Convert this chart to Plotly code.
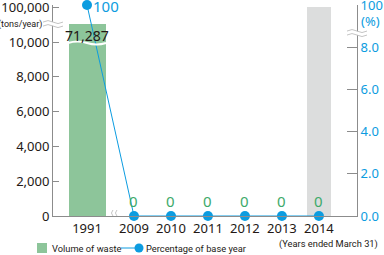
import plotly.graph_objects as go

# ---------------- data ----------------
years = ["1991", "2009", "2010", "2011", "2012", "2013", "2014"]
waste = [71287, 0, 0, 0, 0, 0, 0]          # tons/year
pct_of_base = [100, 0, 0, 0, 0, 0, 0]      # % of base year
highlight_years = ["2014"]
series_names = ["Volume of waste", "Percentage of base year"]

left_ticks = [0, 2000, 4000, 6000, 8000, 10000]
left_top_label = "100,000"
right_ticks = [0, 2, 4, 6, 8]
right_top_label = "100"

# ---------------- styling ----------------
FONT = "Noto Sans"
SMALL_FONT = "Roboto"
DARK = "#231815"
GREEN = "#8dc59a"
GREEN_TXT = "#3daa6a"
BLUE = "#0c9ce0"
GRAY_AX = "#8c8c8c"
GRAY_BAR = "#dcdddd"

# plot-area geometry (pixels)
ML, MR, MT, MB = 53, 27, 5, 39
PW, PH = 384 - ML - MR, 255 - MT - MB


def px_x(px):
    return (px - ML) / PW


def px_y(py):
    return (255 - MB - py) / PH


# axis-break mapping (display positions of broken values)
L_TOP = 12000         # where 100,000 sits on the left scale
L_BREAK = 11030       # display height of values above 10,000
R_TOP = 10            # where 100 sits on the right scale

gap = 1.27
xpos = [i + (gap - 1 if i > 0 else 0) for i in range(len(years))]

waste_disp = [v if v <= 10000 else L_BREAK for v in waste]
pct_disp = [p if p <= 8 else R_TOP for p in pct_of_base]

fig = go.Figure()

hl_x = [xpos[years.index(y)] for y in highlight_years]
fig.add_trace(go.Bar(x=hl_x, y=[L_TOP] * len(hl_x), width=0.65,
                     marker=dict(color=GRAY_BAR, line_width=0),
                     showlegend=False, hoverinfo="skip"))
fig.add_trace(go.Bar(x=xpos, y=waste_disp, width=1.0, name=series_names[0],
                     marker=dict(color=GREEN, line_width=0), showlegend=False))
fig.add_trace(go.Scatter(x=xpos, y=pct_disp, yaxis="y2", mode="lines+markers",
                         name=series_names[1], showlegend=False, cliponaxis=False,
                         line=dict(color=BLUE, width=1),
                         marker=dict(color=BLUE, size=10)))

ann = []
for x, v, d in zip(xpos, waste, waste_disp):
    if v > 10000:
        ann.append(dict(x=x, y=d, xref="x", yref="y", text=f"{v:,}", showarrow=False,
                        yanchor="top", yshift=0, font=dict(size=14, color=DARK)))
    else:
        ann.append(dict(x=x, y=d, xref="x", yref="y", text=f"{v:,}", showarrow=False,
                        yanchor="bottom", yshift=3, font=dict(size=15, color=GREEN_TXT)))
for x, p, d in zip(xpos, pct_of_base, pct_disp):
    if p > 8:
        ann.append(dict(x=x, y=d, xref="x", yref="y2", text=f"{p}", showarrow=False,
                        xanchor="left", yanchor="middle", xshift=4, yshift=-1,
                        font=dict(size=15, color=BLUE)))

ann += [
    dict(x=0, y=L_BREAK, xref="paper", yref="y", text="(tons/year)", showarrow=False,
         xanchor="right", yanchor="middle", xshift=-9,
         font=dict(family=SMALL_FONT, size=9, color=DARK)),
    dict(x=1, y=9.24, xref="paper", yref="y2", text="(%)", showarrow=False,
         xanchor="left", yanchor="middle", xshift=2, font=dict(size=13, color=BLUE)),
    dict(x=1, y=px_y(244), xref="paper", yref="paper", text="(Years ended March 31)",
         showarrow=False, xanchor="right", yanchor="middle", xshift=23,
         font=dict(family=SMALL_FONT, size=9.3, color=DARK)),
    # legend texts
    dict(x=px_x(50), y=px_y(248), xref="paper", yref="paper", text=series_names[0],
         showarrow=False, xanchor="left", yanchor="middle",
         font=dict(family=SMALL_FONT, size=9.3, color=DARK)),
    dict(x=px_x(144), y=px_y(248), xref="paper", yref="paper", text=series_names[1],
         showarrow=False, xanchor="left", yanchor="middle",
         font=dict(family=SMALL_FONT, size=9.3, color=DARK)),
]

shapes = []


def hband(xa, xref, ya, yref, w=10):
    fill = (f"M {-w},2 Q {-w/2},5 0,2 T {w},2 L {w},-2 "
            f"Q {w/2},-5 0,-2 Q {-w/2},1 {-w},-2 Z")
    top = f"M {-w},2 Q {-w/2},5 0,2 T {w},2"
    bot = f"M {-w},-2 Q {-w/2},1 0,-2 T {w},-2"
    out = []
    for p, filled in ((fill, True), (top, False), (bot, False)):
        out.append(dict(type="path", path=p, xref=xref, yref=yref,
                        xsizemode="pixel", ysizemode="pixel", xanchor=xa, yanchor=ya,
                        fillcolor="white" if filled else "rgba(0,0,0,0)",
                        line=dict(color="rgba(0,0,0,0)" if filled else "#b5b5b5", width=0.8)))
    return out


def vband(xa, xref, ya, yref, h=6):
    fill = (f"M 2,{-h} Q 5,{-h/2} 2,0 T 2,{h} L -2,{h} "
            f"Q -5,{h/2} -2,0 Q 1,{-h/2} -2,{-h} Z")
    r = f"M 2,{-h} Q 5,{-h/2} 2,0 T 2,{h}"
    l = f"M -2,{-h} Q 1,{-h/2} -2,0 T -2,{h}"
    out = []
    for p, filled in ((fill, True), (r, False), (l, False)):
        out.append(dict(type="path", path=p, xref=xref, yref=yref,
                        xsizemode="pixel", ysizemode="pixel", xanchor=xa, yanchor=ya,
                        fillcolor="white" if filled else "rgba(0,0,0,0)",
                        line=dict(color="rgba(0,0,0,0)" if filled else "#b5b5b5", width=0.8)))
    return out


shapes += hband(0, "paper", L_BREAK, "y")
shapes += hband(1, "paper", 8.67, "y2")
shapes += vband((xpos[0] + xpos[1]) / 2 + 0.12, "x", 0, "y")
# white wave across the broken bar
shapes.append(dict(type="path", path="M -19,0 Q -9.5,3 0,0 T 19,0", xref="x", yref="y",
                   xsizemode="pixel", ysizemode="pixel", xanchor=xpos[0], yanchor=9943,
                   line=dict(color="white", width=2.2)))
# legend symbols
shapes.append(dict(type="rect", xref="paper", yref="paper",
                   x0=px_x(37), x1=px_x(47), y0=px_y(253), y1=px_y(243),
                   fillcolor=GREEN, line_width=0))
shapes.append(dict(type="line", xref="paper", yref="paper",
                   x0=px_x(121), x1=px_x(139), y0=px_y(248), y1=px_y(248),
                   line=dict(color=BLUE, width=1)))
shapes.append(dict(type="circle", xref="paper", yref="paper",
                   x0=px_x(134.5), x1=px_x(143.5), y0=px_y(252.5), y1=px_y(243.5),
                   fillcolor=BLUE, line_width=0))

fig.update_layout(
    width=384, height=255,
    margin=dict(l=ML, r=MR, t=MT, b=MB, autoexpand=False),
    paper_bgcolor="white", plot_bgcolor="white",
    barmode="overlay", bargap=0, showlegend=False,
    font=dict(family=FONT, color=DARK),
    xaxis=dict(range=[-0.92, 7.30], tickvals=xpos, ticktext=years, showgrid=False,
               zeroline=False, showline=True, linecolor=GRAY_AX, linewidth=1,
               ticks="", tickfont=dict(size=13, color=DARK), ticklabeloverflow="allow"),
    yaxis=dict(range=[0, PH / 17.4 * 1000], tickvals=left_ticks + [L_TOP],
               ticktext=[f"{t:,}" for t in left_ticks] + [left_top_label],
               showgrid=False, zeroline=False, showline=True, linecolor=GRAY_AX,
               linewidth=1, ticks="inside", ticklen=6, tickcolor=GRAY_AX,
               tickfont=dict(size=13, color=DARK), ticklabeloverflow="allow"),
    yaxis2=dict(range=[0, R_TOP], overlaying="y", side="right",
                tickvals=right_ticks + [R_TOP],
                ticktext=[f"{t:.1f}" for t in right_ticks] + [right_top_label],
                showgrid=False, zeroline=False, showline=True, linecolor=GRAY_AX,
                linewidth=1, ticks="inside", ticklen=10, tickcolor=GRAY_AX,
                tickfont=dict(size=13, color=BLUE), ticklabeloverflow="allow"),
    annotations=ann, shapes=shapes,
)

fig.write_html("out.html")
